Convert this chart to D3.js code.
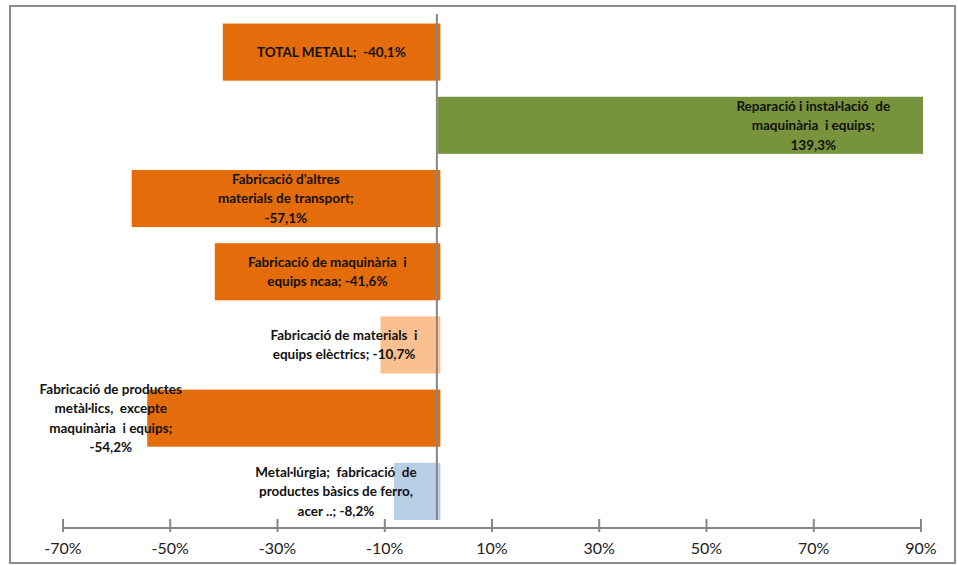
<!DOCTYPE html>
<html>
<head>
<meta charset="utf-8">
<script src="https://cdn.jsdelivr.net/npm/d3@7"></script>
<style>
	body { margin: 0; background: #fff; }
	svg { display: block; }
</style>
</head>
<body>
<div class="chart"></div>
<script>
// categories (top to bottom) and values, in %
const categories = [
	"TOTAL METALL",
	"Reparació i instal·lació de maquinària i equips",
	"Fabricació d'altres materials de transport",
	"Fabricació de maquinària i equips ncaa",
	"Fabricació de materials i equips elèctrics",
	"Fabricació de productes metàl·lics, excepte maquinària i equips",
	"Metal·lúrgia; fabricació de productes bàsics de ferro, acer .."
];
const values = [-40.1, 139.3, -57.1, -41.6, -10.7, -54.2, -8.2];

// label text, broken in lines like the original
const labelLines = [
	["TOTAL METALL;  -40,1%"],
	["Reparació i instal·lació  de", "maquinària  i equips;", "139,3%"],
	["Fabricació d'altres", "materials de transport;", "-57,1%"],
	["Fabricació de maquinària  i", "equips ncaa; -41,6%"],
	["Fabricació de materials  i", "equips elèctrics; -10,7%"],
	["Fabricació de productes", "metàl·lics,  excepte", "maquinària  i equips;", "-54,2%"],
	["Metal·lúrgia;  fabricació  de", "productes bàsics de ferro,", "acer ..; -8,2%"]
];
// where the label sits on the value axis (null = middle of the bar)
const labelAt = [null, 70, null, null, -17.5, -61, -19];

const xTicks = [-70, -50, -30, -10, 10, 30, 50, 70, 90];

const barColors = ["#E46C0A", "#77933C", "#E46C0A", "#E46C0A", "#FAC090", "#E46C0A", "#B9CDE5"];

(function () {
	const width = 958, height = 565;

	const svg = d3.select(".chart").append("svg")
		.attr("width", width)
		.attr("height", height);

	// outer frame
	svg.append("rect")
		.attr("x", 10).attr("y", 6)
		.attr("width", 945).attr("height", 557)
		.attr("fill", "#fff")
		.attr("stroke", "#8c8c8c")
		.attr("stroke-width", 2);

	const x = d3.scaleLinear().domain([-70, 90]).range([62.5, 920.5]);
	const y = d3.scaleBand().domain(categories).range([15.5, 528]).paddingInner(0.22).paddingOuter(0.11);

	const data = categories.map(function (c, i) {
		return {name: c, value: values[i], lines: labelLines[i], at: labelAt[i], color: barColors[i]};
	});

	const clip = function (v) { return Math.max(x.domain()[0], Math.min(x.domain()[1], v)); };

	svg.selectAll(".bar")
		.data(data)
		.enter().append("rect")
		.attr("class", "bar")
		.attr("x", function (d) { return x(Math.min(0, clip(d.value))); })
		.attr("y", function (d) { return y(d.name); })
		.attr("width", function (d) { return Math.abs(x(clip(d.value)) - x(0)) + 2.5; })
		.attr("height", y.bandwidth())
		.attr("fill", function (d) { return d.color; });

	// zero line
	svg.append("line")
		.attr("x1", x(0) - 1).attr("x2", x(0) - 1)
		.attr("y1", 14).attr("y2", 520)
		.attr("stroke", "#868686")
		.attr("stroke-width", 2);

	// x axis
	const axis = svg.append("g")
		.attr("transform", "translate(0," + 528 + ")")
		.call(d3.axisBottom(x).tickValues(xTicks).tickSizeOuter(0)
			.tickFormat(function (d) { return d + "%"; }));
	axis.select(".domain").attr("stroke", "#868686").attr("stroke-width", 2)
		.attr("d", "M" + x(-70) + ",0H" + x(90));
	axis.selectAll(".tick line").attr("stroke", "#868686").attr("stroke-width", 2)
		.attr("y1", -9).attr("y2", 4);
	axis.selectAll(".tick text")
		.attr("y", 15)
		.attr("fill", "#222")
		.style("font-family", "Lato, 'Open Sans', sans-serif")
		.style("font-size", "16px");

	// data labels
	const lineH = 19.5;
	const labels = svg.selectAll(".lbl")
		.data(data)
		.enter().append("text")
		.attr("class", "lbl")
		.attr("text-anchor", "middle")
		.attr("fill", "#111")
		.style("font-family", "Lato, 'Open Sans', sans-serif")
		.style("font-weight", "bold")
		.style("font-size", "13.5px")
		.style("white-space", "pre")
		.attr("transform", function (d) {
			const cx = d.at === null ? (x(Math.min(0, d.value)) + x(0)) / 2 + 1 : x(d.at);
			const cy = y(d.name) + y.bandwidth() / 2 - (d.lines.length - 1) * lineH / 2;
			return "translate(" + cx + "," + cy + ")";
		});
	labels.each(function (d) {
		d3.select(this).selectAll("tspan")
			.data(d.lines)
			.enter().append("tspan")
			.attr("x", 0)
			.attr("y", function (l, i) { return i * lineH; })
			.attr("dy", "0.35em")
			.text(function (l) { return l; });
	});
}());
</script>
</body>
</html>
